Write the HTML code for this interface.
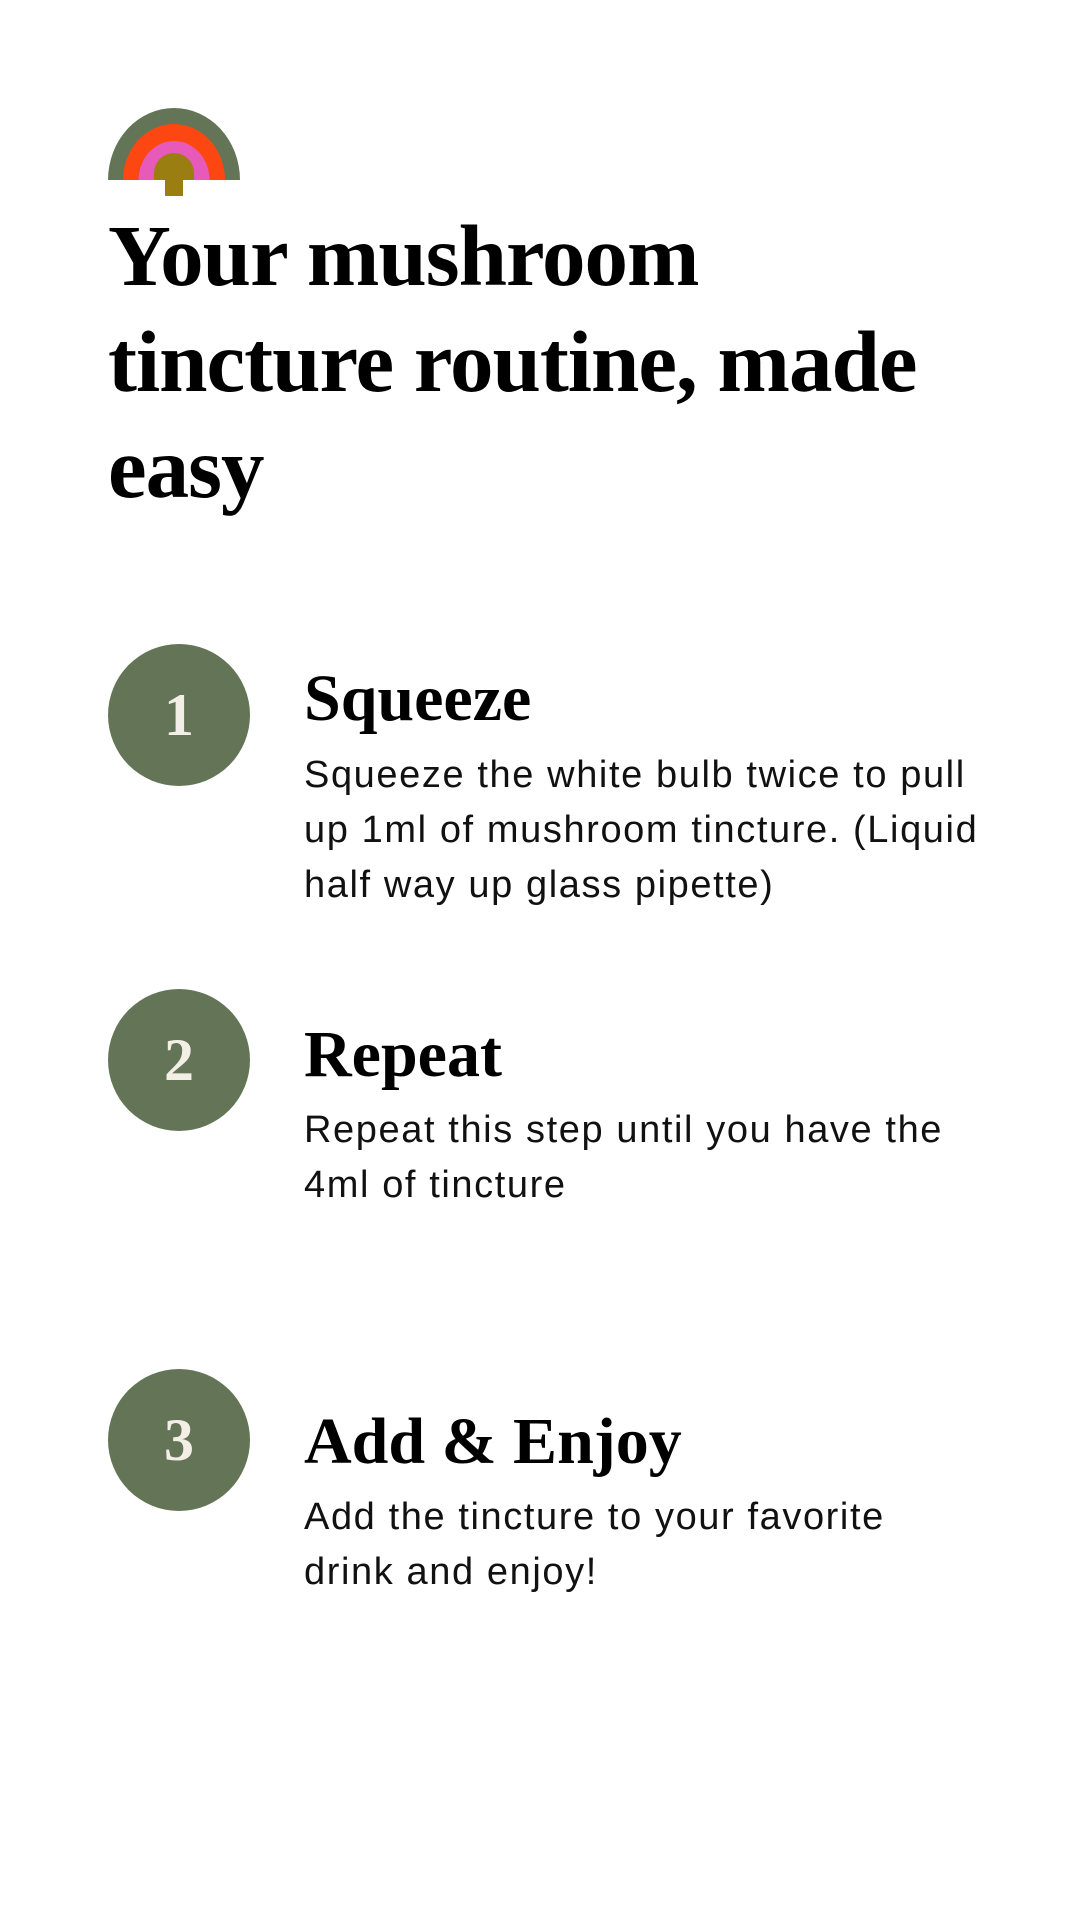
<!DOCTYPE html>
<html><head><meta charset="utf-8"><style>
body{margin:0;width:1080px;height:1920px;background:#fff;position:relative;overflow:hidden}
.t{position:absolute;left:108px;top:203px;font-family:"Liberation Serif",serif;font-weight:bold;font-size:87px;line-height:106px;color:#000;letter-spacing:-1px}
.c{position:absolute;left:108px;width:142px;height:142px;border-radius:50%;background:#637556;color:#f3efe6;font-family:"Liberation Serif",serif;font-weight:bold;font-size:60px;line-height:142px;text-align:center}
.h{position:absolute;left:304px;font-family:"Liberation Serif",serif;font-weight:bold;font-size:66px;line-height:70px;color:#000;letter-spacing:0px}
.b{position:absolute;left:304px;font-family:"Liberation Sans",sans-serif;font-size:38px;line-height:55px;color:#111;letter-spacing:1.6px}
</style></head><body>
<svg style="position:absolute;left:0;top:0" width="300" height="220">
<path d="M108 180 A66 72 0 0 1 240 180 Z" fill="#637556"/>
<path d="M123 180 A51 56 0 0 1 225 180 Z" fill="#fc4712"/>
<path d="M138.5 180 A35.5 39 0 0 1 209.5 180 Z" fill="#e85ab9"/>
<path d="M154 180 L154 173 A20 20 0 0 1 194 173 L194 180 Z" fill="#9a7e12"/>
<rect x="165" y="178" width="18" height="18" fill="#9a7e12"/>
</svg>
<div class="t">Your mushroom<br>tincture routine, made<br>easy</div>
<div class="c" style="top:644px">1</div>
<div class="h" style="top:664px">Squeeze</div>
<div class="b" style="top:748px">Squeeze the white bulb twice to pull<br>up 1ml of mushroom tincture. (Liquid<br>half way up glass pipette)</div>
<div class="c" style="top:989px">2</div>
<div class="h" style="top:1020px">Repeat</div>
<div class="b" style="top:1103px">Repeat this step until you have the<br>4ml of tincture</div>
<div class="c" style="top:1369px">3</div>
<div class="h" style="top:1407px">Add &amp; Enjoy</div>
<div class="b" style="top:1490px">Add the tincture to your favorite<br>drink and enjoy!</div>
</body></html>
